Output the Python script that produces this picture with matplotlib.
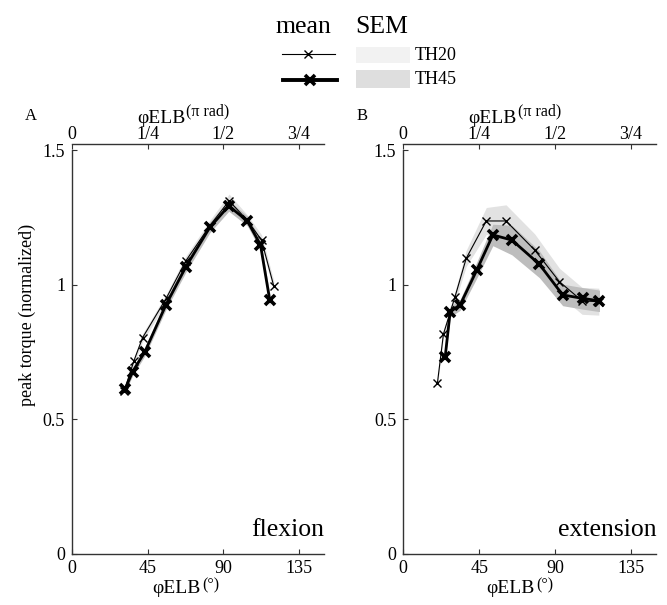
import matplotlib
matplotlib.use("Agg")
import matplotlib.pyplot as plt
import matplotlib.patches as mpatches
from matplotlib.lines import Line2D
import numpy as np

plt.rcParams["font.family"] = ["Liberation Serif", "DejaVu Serif"]

# ── data ──────────────────────────────────────────────────────────────────────
# flexion
flex_th20_x = [31.0, 36.9, 42.0, 56.3, 67.8, 82.0, 93.5, 104.4, 112.8, 120.1]
flex_th20_y = [0.605, 0.719, 0.804, 0.953, 1.090, 1.220, 1.313, 1.240, 1.167, 0.996]
flex_th20_sem = [0.010, 0.012, 0.015, 0.015, 0.018, 0.020, 0.025, 0.020, 0.020, 0.020]
flex_th45_x = [31.5, 36.1, 43.4, 55.9, 67.8, 82.0, 93.3, 104.4, 112.2, 117.7]
flex_th45_y = [0.612, 0.678, 0.752, 0.926, 1.068, 1.214, 1.294, 1.238, 1.149, 0.944]
flex_th45_sem = [0.012, 0.015, 0.015, 0.018, 0.020, 0.020, 0.020, 0.018, 0.020, 0.025]

# extension
ext_th20_x = [20.2, 23.8, 30.7, 37.3, 49.2, 60.9, 77.9, 92.6, 106.0, 115.9]
ext_th20_y = [0.634, 0.818, 0.957, 1.099, 1.238, 1.238, 1.130, 1.012, 0.941, 0.938]
ext_th20_sem = [0.010, 0.015, 0.020, 0.030, 0.050, 0.060, 0.060, 0.050, 0.050, 0.050]
ext_th45_x = [24.8, 27.8, 33.7, 43.6, 53.1, 64.4, 80.7, 94.5, 106.6, 116.3]
ext_th45_y = [0.731, 0.901, 0.926, 1.056, 1.186, 1.167, 1.077, 0.963, 0.950, 0.941]
ext_th45_sem = [0.010, 0.020, 0.020, 0.030, 0.040, 0.055, 0.050, 0.040, 0.040, 0.040]

deg_ticks = [0, 45, 90, 135]
rad_labels = ["0", "1/4", "1/2", "3/4"]
y_ticks = [0, 0.5, 1, 1.5]
y_labels = ["0", "0.5", "1", "1.5"]

W, H = 667, 605
SPINE = "#333333"
BAND20 = "#e2e2e2"
BAND45 = "#bdbdbd"


def px(x, y):
    return x / W, 1 - y / H


def draw_panel(ax, th20, th45, letter, word):
    x20, y20, s20 = map(np.asarray, th20)
    x45, y45, s45 = map(np.asarray, th45)
    ax.fill_between(x20, y20 - s20, y20 + s20, color=BAND20, lw=0, zorder=1)
    ax.fill_between(x45, y45 - s45, y45 + s45, color=BAND45, lw=0, zorder=2)
    ax.plot(x20, y20, color="black", lw=0.8, marker="x", ms=6, mew=1.0, zorder=3)
    ax.plot(x45, y45, color="black", lw=2.0, marker="x", ms=6.5, mew=2.6, zorder=4)

    ax.set_xlim(0, 150)
    ax.set_ylim(0, 1.523)
    ax.spines[["right", "top"]].set_visible(False)
    for s in ("left", "bottom"):
        ax.spines[s].set_color(SPINE)
        ax.spines[s].set_linewidth(1.0)
    ax.spines["left"].set_bounds(0, 1.5)
    ax.set_xticks(deg_ticks)
    ax.set_xticklabels([str(t) for t in deg_ticks])
    ax.set_yticks(y_ticks)
    ax.set_yticklabels(y_labels)
    ax.tick_params(direction="in", length=3.5, width=0.8, color=SPINE,
                   labelsize=13, pad=4)
    ax.tick_params(axis="y", pad=5)

    top = ax.twiny()
    top.set_xlim(ax.get_xlim())
    top.spines[["right", "left", "bottom"]].set_visible(False)
    top.spines["top"].set_color(SPINE)
    top.spines["top"].set_linewidth(1.0)
    top.set_xticks(deg_ticks)
    top.set_xticklabels(rad_labels)
    top.tick_params(direction="in", length=3.5, width=0.8, color=SPINE,
                    labelsize=13, pad=1)

    ax.text(1.0, 0.044, word, transform=ax.transAxes, ha="right",
            va="baseline", fontsize=18.5)
    return top


fig = plt.figure(figsize=(W / 100, H / 100), dpi=100)
axA = fig.add_axes([72 / W, 51 / H, 252 / W, 409.7 / H])
axB = fig.add_axes([403.3 / W, 51 / H, 253 / W, 409.7 / H])

draw_panel(axA, (flex_th20_x, flex_th20_y, flex_th20_sem),
           (flex_th45_x, flex_th45_y, flex_th45_sem), "A", "flexion")
draw_panel(axB, (ext_th20_x, ext_th20_y, ext_th20_sem),
           (ext_th45_x, ext_th45_y, ext_th45_sem), "B", "extension")

# axis labels built from two pieces: φELB + raised unit
for left, ax_w, top_j, bot_j in [(72, 252, 185.5, 201), (403.3, 253, 517, 535)]:
    fig.text(*px(top_j, 123), "φELB", ha="right", va="baseline", fontsize=14)
    fig.text(*px(top_j + 1, 115), "(π rad)", ha="left", va="baseline", fontsize=11.5)
    fig.text(*px(bot_j, 593), "φELB", ha="right", va="baseline", fontsize=14)
    fig.text(*px(bot_j + 1, 589), "(°)", ha="left", va="baseline", fontsize=11.5)

fig.text(*px(25, 120), "A", ha="left", va="baseline", fontsize=12)
fig.text(*px(357, 120), "B", ha="left", va="baseline", fontsize=12)
fig.text(*px(27, 315), "peak torque (normalized)", rotation=90,
         ha="center", va="center", fontsize=13)

# ── legend ───────────────────────────────────────────────────────────────────
lg = fig.add_axes([0, 0, 1, 1], zorder=-1)
lg.set_xlim(0, W)
lg.set_ylim(H, 0)
lg.axis("off")
lg.text(303, 33, "mean", ha="center", va="baseline", fontsize=18.5)
lg.text(382, 33, "SEM", ha="center", va="baseline", fontsize=18.5)
lg.add_line(Line2D([282, 308, 335], [54, 54, 54], color="black", lw=0.8,
                   marker="x", ms=6, mew=1.0, markevery=[1]))
lg.add_line(Line2D([283, 310, 337], [80, 80, 80], color="black", lw=2.8,
                   marker="x", ms=6.5, mew=2.6, markevery=[1]))
lg.add_patch(mpatches.Rectangle((356, 47), 54, 16, color="#f2f2f2", lw=0))
lg.add_patch(mpatches.Rectangle((356, 70), 54, 18, color="#dedede", lw=0))
lg.text(415, 55, "TH20", ha="left", va="center", fontsize=13)
lg.text(415, 80, "TH45", ha="left", va="center", fontsize=13)

fig.savefig("out.png", dpi=100)
